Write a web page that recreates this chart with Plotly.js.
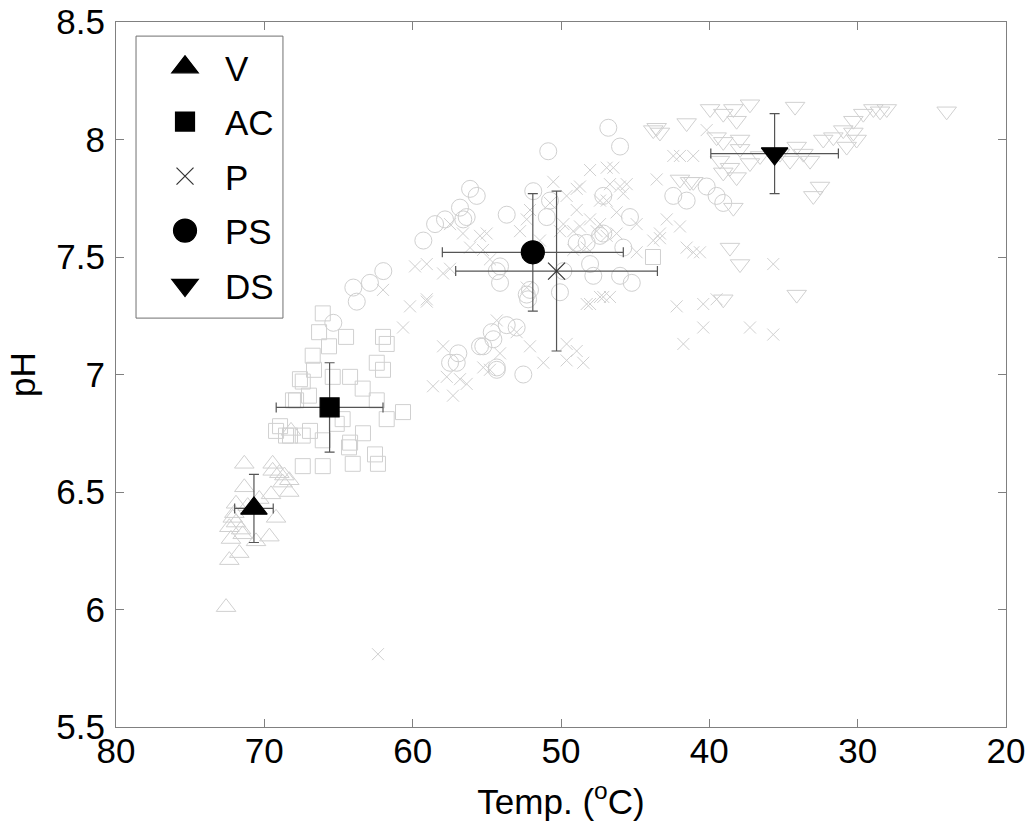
<!DOCTYPE html>
<html>
<head>
<meta charset="utf-8">
<script src="https://cdn.plot.ly/plotly-3.0.1.min.js"></script>
<style>html,body{margin:0;padding:0;background:#fff;}#chart{width:1032px;height:829px;}</style>
</head>
<body>
<div id="chart"></div>
<script>
// ---- Individual samples (background, light grey open markers) ----
var V_T  = [71.35, 69.44, 68.65, 68.32, 69.55, 71.35, 71.91, 72.13, 72.36, 71.57, 69.21, 69.66, 70.56, 72.25, 71.69, 72.36, 72.58, 69.44, 68.99, 68.32, 72.02, 71.12, 70.34, 68.77, 71.91, 71.46, 68.2];
var V_pH = [6.62, 6.62, 6.57, 6.50, 6.49, 6.52, 6.45, 6.39, 6.35, 6.34, 6.39, 6.31, 6.29, 6.30, 6.24, 6.21, 6.01, 6.59, 6.58, 6.55, 6.41, 6.44, 6.47, 6.54, 6.37, 6.32, 6.76];

var AC_T  = [66.06, 66.31, 64.49, 65.64, 66.74, 66.65, 67.41, 65.39, 63.37, 66.99, 67.86, 64.72, 69.21, 68.54, 67.41, 66.06, 64.29, 64.04, 66.06, 67.41, 62.0, 61.75, 64.22, 62.42, 62.0, 62.42, 67.60, 68.07, 61.75, 60.65, 63.35, 68.94, 68.27, 66.92, 65.12, 64.22, 43.8, 62.54, 62.34];
var AC_pH = [7.26, 7.18, 7.16, 7.12, 7.08, 7.02, 6.97, 6.99, 6.94, 6.91, 6.89, 6.81, 6.76, 6.74, 6.74, 6.72, 6.69, 6.62, 6.61, 6.61, 7.16, 7.13, 6.99, 7.05, 7.02, 6.89, 6.98, 6.89, 6.81, 6.84, 6.75, 6.78, 6.74, 6.76, 6.79, 6.71, 7.50, 6.66, 6.62];

var P_T  = [57.48, 56.61, 55.46, 55.26, 54.79, 59.84, 59.05, 57.95, 62.0, 60.18, 59.05, 60.65, 57.95, 57.7, 58.63, 57.28, 56.36, 54.79, 50.52, 48.94, 48.04, 46.92, 46.02, 45.8, 46.92, 48.94, 50.07, 48.72, 51.42, 52.31, 47.37, 46.25, 55.01, 56.13, 57.48, 59.05, 52.31, 47.15, 48.27, 54.33, 52.99, 54.11, 55.24, 49.62, 48.5, 56.81, 43.55, 42.43, 41.98, 43.78, 42.2, 41.75, 44.9, 41.09, 40.18, 43.33, 41.53, 40.63, 35.69, 40.41, 39.51, 40.41, 37.26, 35.69, 62.34,
             48.72, 46.47, 45.57, 47.37, 49.62, 48.04, 46.25, 44.9, 42.87, 43.33, 41.08, 49.17, 49.84, 46.92, 47.6, 48.27, 49.17, 47.37, 46.7, 48.04, 49.62, 48.94, 52.09, 51.19, 52.09, 52.76, 50.74, 46.7, 41.98];
var P_pH = [7.64, 7.60, 7.59, 7.53, 7.49, 7.46, 7.47, 7.43, 7.36, 7.29, 7.31, 7.20, 7.12, 6.99, 6.95, 6.91, 6.96, 7.02, 7.82, 7.79, 7.87, 7.88, 7.80, 7.77, 7.74, 7.70, 7.61, 7.63, 7.57, 7.66, 7.64, 7.60, 7.60, 7.54, 7.45, 7.32, 7.37, 7.33, 7.30, 7.23, 7.18, 7.09, 7.03, 7.06, 7.05, 6.98, 7.83, 7.93, 7.63, 7.57, 7.29, 7.13, 7.52, 7.93, 8.04, 7.60, 7.54, 7.52, 7.47, 7.30, 7.32, 7.20, 7.20, 7.17, 5.81,
             7.80, 7.88, 7.81, 7.74, 7.76, 7.66, 7.69, 7.64, 7.66, 7.58, 7.52, 7.61, 7.64, 7.59, 7.61, 7.54, 7.53, 7.33, 7.33, 7.30, 7.13, 7.10, 7.12, 7.05, 7.70, 7.61, 7.73, 7.81, 7.93];

var PS_T  = [56.13, 55.68, 56.81, 56.36, 57.82, 58.49, 59.28, 61.98, 62.88, 64.0, 63.77, 65.35, 57.03, 55.46, 54.56, 54.33, 46.81, 46.02, 50.86, 56.59, 53.66, 51.87, 50.96, 48.94, 48.27, 47.37, 45.35, 45.8, 48.04, 47.82, 46.02, 45.23, 54.33, 54.11, 52.31, 52.22, 50.07, 52.99, 53.66, 54.67, 55.24, 56.92, 57.48, 54.33, 52.54, 42.43, 41.53, 40.18, 39.51, 39.06,
             50.74, 47.15, 47.15, 49.84, 52.09, 54.11];
var PS_pH = [7.79, 7.76, 7.71, 7.67, 7.66, 7.64, 7.57, 7.44, 7.39, 7.37, 7.31, 7.22, 7.05, 7.12, 7.15, 7.03, 8.05, 7.97, 7.95, 7.66, 7.68, 7.78, 7.67, 7.56, 7.56, 7.59, 7.67, 7.54, 7.47, 7.42, 7.42, 7.39, 7.44, 7.39, 7.34, 7.32, 7.35, 7.20, 7.21, 7.18, 7.12, 7.09, 7.05, 7.02, 7.00, 7.76, 7.74, 7.80, 7.76, 7.73,
             7.74, 7.76, 7.60, 7.44, 7.36, 7.46];

var DS_T  = [43.55, 41.53, 41.98, 41.08, 43.33, 43.78, 39.95, 39.06, 38.38, 37.26, 34.22, 38.16, 39.51, 39.06, 37.93, 37.93, 39.28, 38.61, 39.06, 38.16, 37.26, 36.58, 41.3, 34.11, 33.66, 34.56, 33.21, 32.32, 31.64, 30.97, 30.29, 29.62, 28.94, 28.49, 28.04, 30.29, 30.07, 30.74, 24.0, 32.54, 32.99, 38.38, 38.61, 37.93, 34.11, 39.06, 35.24];
var DS_pH = [8.05, 8.07, 7.83, 7.82, 8.03, 8.04, 8.13, 8.11, 8.13, 8.15, 8.14, 8.08, 8.01, 7.99, 8.00, 7.96, 7.91, 7.88, 7.86, 7.84, 7.90, 7.93, 7.82, 7.97, 7.94, 7.91, 7.91, 8.00, 8.01, 8.04, 8.08, 8.11, 8.13, 8.12, 8.13, 8.03, 8.00, 7.97, 8.12, 7.80, 7.76, 7.71, 7.54, 7.47, 7.34, 7.32, 7.94];

// ---- Group means and standard deviations ----
var groups = ['V', 'AC', 'P', 'PS', 'DS'];
var meanT  = [70.7, 65.6, 50.3, 51.9, 35.6];
var meanPH = [6.43, 6.86, 7.44, 7.52, 7.94];
var sdT    = [1.3, 3.6, 6.8, 6.1, 4.3];
var sdPH   = [0.145, 0.19, 0.34, 0.25, 0.17];

// ---- Axis ticks ----
var xTicks = [80, 70, 60, 50, 40, 30, 20];
var yTicks = [5.5, 6, 6.5, 7, 7.5, 8, 8.5];
var yTickText = ['5.5', '6', '6.5', '7', '7.5', '8', '8.5'];

var FONT = 'Liberation Sans, Arial, sans-serif';
var bgColor = 'rgb(208,208,208)';

var bgSets = [
  {x: V_T,  y: V_pH,  sym: 'triangle-up-open',   size: 17},
  {x: AC_T, y: AC_pH, sym: 'square-open',        size: 15},
  {x: P_T,  y: P_pH,  sym: 'x-thin-open',        size: 12},
  {x: PS_T, y: PS_pH, sym: 'circle-open',        size: 17},
  {x: DS_T, y: DS_pH, sym: 'triangle-down-open', size: 17}
];

var traces = [];
bgSets.forEach(function (s) {
  traces.push({
    type: 'scatter', mode: 'markers', x: s.x, y: s.y, showlegend: false, hoverinfo: 'skip',
    marker: {symbol: s.sym, size: s.size, color: bgColor, line: {color: bgColor, width: 1}}
  });
});

var mainSym  = ['triangle-up', 'square', 'x-thin', 'circle', 'triangle-down'];
var mainSize = [23, 19, 17, 23, 23];
var mainCol  = ['#000', '#000', '#333', '#000', '#000'];

groups.forEach(function (g, i) {
  traces.push({
    type: 'scatter', mode: 'markers', name: g, legendgroup: g,
    x: [meanT[i]], y: [meanPH[i]],
    error_x: {type: 'data', array: [sdT[i]], visible: true, color: '#555', thickness: 1.2, width: 5},
    error_y: {type: 'data', array: [sdPH[i]], visible: true, color: '#555', thickness: 1.2, width: 5},
    marker: {symbol: mainSym[i], size: mainSize[i], color: mainCol[i], line: {color: mainCol[i], width: 1.2}}
  });
});

var layout = {
  width: 1032, height: 829,
  margin: {l: 116, r: 26, t: 22, b: 102},
  paper_bgcolor: '#fff', plot_bgcolor: '#fff',
  font: {family: FONT, color: '#000'},
  showlegend: true,
  legend: {
    x: 0.0326, y: 0.9775, xanchor: 'left', yanchor: 'top',
    bgcolor: 'rgba(0,0,0,0)', borderwidth: 0,
    font: {family: FONT, size: 35, color: '#000'},
    itemwidth: 70, tracegroupgap: 6, traceorder: 'grouped'
  },
  xaxis: {
    range: [80, 20], tickvals: xTicks, ticktext: xTicks.map(String),
    ticks: 'inside', ticklen: 8, tickcolor: '#808080', tickwidth: 1,
    showline: true, linecolor: '#808080', linewidth: 1, mirror: 'ticks',
    showgrid: false, zeroline: false,
    tickfont: {family: FONT, size: 35, color: '#000'}, ticklabelstandoff: -7,
    title: {text: 'Temp. (<sup>o</sup>C)', font: {family: FONT, size: 35, color: '#000'}, standoff: 20}
  },
  yaxis: {
    range: [5.5, 8.5], tickvals: yTicks, ticktext: yTickText,
    ticks: 'inside', ticklen: 8, tickcolor: '#808080', tickwidth: 1,
    showline: true, linecolor: '#808080', linewidth: 1, mirror: 'ticks',
    showgrid: false, zeroline: false,
    tickfont: {family: FONT, size: 35, color: '#000'}, ticklabelstandoff: 3,
    title: {text: 'pH', font: {family: FONT, size: 35, color: '#000'}, standoff: 10}
  },
  shapes: [{
    type: 'rect', xref: 'paper', yref: 'paper',
    x0: 0.0225, x1: 0.1876, y0: 0.580, y1: 0.980,
    line: {color: '#707070', width: 1}, fillcolor: 'rgba(0,0,0,0)', layer: 'below'
  }]
};

var gd = document.getElementById('chart');
Plotly.newPlot(gd, traces, layout, {displayModeBar: false, staticPlot: true}).then(function () {
  // enlarge legend symbols to match the plotted marker sizes (legend caps size at 16)
  gd.querySelectorAll('.legend .traces').forEach(function (tr) {
    var d = tr.__data__ && tr.__data__[0];
    if (!d || !d.trace || !d.trace.marker) return;
    var k = d.trace.marker.size / 16;
    tr.querySelectorAll('.legendpoints path').forEach(function (p) {
      var t = p.getAttribute('transform') || '';
      p.setAttribute('transform', t + ' scale(' + k + ')');
      p.style.vectorEffect = 'non-scaling-stroke';
    });
  });
});
</script>
</body>
</html>
